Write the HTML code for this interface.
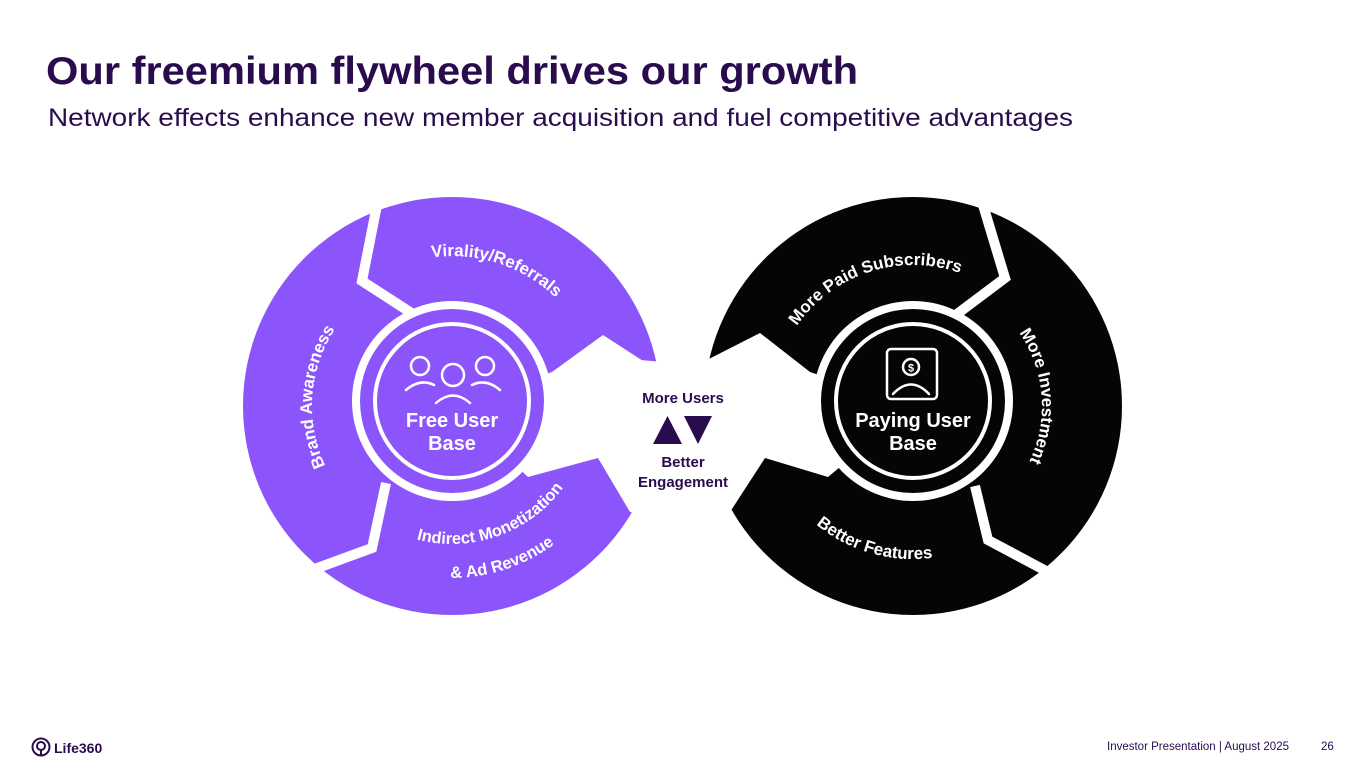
<!DOCTYPE html>
<html><head><meta charset="utf-8"><style>
html,body{margin:0;padding:0;background:#fff;}
svg{display:block;}
</style></head><body>
<svg width="1365" height="768" viewBox="0 0 1365 768" xmlns="http://www.w3.org/2000/svg" font-family="'Liberation Sans', sans-serif">
<rect width="1365" height="768" fill="#fff"/>
<text x="46" y="84" font-size="39" font-weight="bold" fill="#2a0c4e" textLength="812" lengthAdjust="spacingAndGlyphs">Our freemium flywheel drives our growth</text>
<text x="48" y="126" font-size="25" fill="#2a0c4e" textLength="1025" lengthAdjust="spacingAndGlyphs">Network effects enhance new member acquisition and fuel competitive advantages</text>

<defs>
<path id="pVir" d="M322.1,331 A150,150 0 0 1 599.7,380"/>
<path id="pBrand" d="M362,513.2 A140,140 0 0 1 362,298.8"/>
<path id="pInd1" d="M346.3,494.7 A138,138 0 0 0 590,406"/>
<path id="pInd2" d="M320.3,516.5 A172,172 0 0 0 624,406"/>
<path id="pPaid" d="M772,406 A141,141 0 0 1 1045.5,357.8"/>
<path id="pInv" d="M957.1,284.8 A129,129 0 0 1 977.5,517.7"/>
<path id="pFeat" d="M762.3,432.6 A153,153 0 0 0 1056.8,458.3"/>
</defs>

<!-- Left wheel -->
<circle cx="452" cy="406" r="209" fill="#8b55fb"/>
<polygon points="452,406 552,372 603,335 657,370 720,360 720,530 630,512 598,458 528,477" fill="#fff"/>
<polyline points="377,205 362,281 413,314" fill="none" stroke="#fff" stroke-width="10" stroke-linejoin="miter"/>
<polyline points="386,483 372,548 312,570" fill="none" stroke="#fff" stroke-width="10" stroke-linejoin="miter"/>
<circle cx="452" cy="401" r="100" fill="#fff"/>
<circle cx="452" cy="401" r="92" fill="#8b55fb"/>
<circle cx="452" cy="401" r="77" fill="none" stroke="#fff" stroke-width="4"/>
<g fill="none" stroke="#fff" stroke-width="2.5" stroke-linecap="round">
<circle cx="420" cy="366" r="9"/>
<circle cx="453" cy="375" r="11"/>
<circle cx="485" cy="366" r="9"/>
<path d="M406,390 Q420,378 434,385"/>
<path d="M472,385 Q486,378 500,390"/>
<path d="M436,403 Q453,388 470,403"/>
</g>
<text x="452" y="427" font-size="20" font-weight="bold" fill="#fff" text-anchor="middle">Free User</text>
<text x="452" y="450" font-size="20" font-weight="bold" fill="#fff" text-anchor="middle">Base</text>
<g font-size="17" font-weight="bold" fill="#fff">
<text><textPath href="#pVir" startOffset="55.7%" text-anchor="middle">Virality/Referrals</textPath></text>
<text><textPath href="#pBrand" startOffset="54%" text-anchor="middle">Brand Awareness</textPath></text>
<text font-size="16.5"><textPath href="#pInd1" startOffset="49.6%" text-anchor="middle">Indirect Monetization</textPath></text>
<text font-size="16.5"><textPath href="#pInd2" startOffset="48.6%" text-anchor="middle">&amp; Ad Revenue</textPath></text>
</g>

<!-- Right wheel -->
<circle cx="913" cy="406" r="209" fill="#050505"/>
<polygon points="913,406 810,372 760,333 697,365 640,360 640,530 730,512 765,458 828,477" fill="#fff"/>
<polyline points="983,205 1005,278 957,314" fill="none" stroke="#fff" stroke-width="10"/>
<polyline points="975,486 988,540 1048,572" fill="none" stroke="#fff" stroke-width="10"/>
<circle cx="913" cy="401" r="100" fill="#fff"/>
<circle cx="913" cy="401" r="92" fill="#050505"/>
<circle cx="913" cy="401" r="77" fill="none" stroke="#fff" stroke-width="4"/>
<g fill="none" stroke="#fff" stroke-width="2.5" stroke-linecap="round">
<rect x="887" y="349" width="50" height="50" rx="4"/>
<circle cx="911" cy="367" r="8"/>
<path d="M893,394 Q911,375 929,394"/>
</g>
<text x="911" y="371.5" font-size="11" font-weight="bold" fill="#fff" text-anchor="middle">$</text>
<text x="913" y="427" font-size="20" font-weight="bold" fill="#fff" text-anchor="middle">Paying User</text>
<text x="913" y="450" font-size="20" font-weight="bold" fill="#fff" text-anchor="middle">Base</text>
<g font-size="17" font-weight="bold" fill="#fff">
<text><textPath href="#pPaid" startOffset="45%" text-anchor="middle">More Paid Subscribers</textPath></text>
<text><textPath href="#pInv" startOffset="50.3%" text-anchor="middle">More Investment</textPath></text>
<text><textPath href="#pFeat" startOffset="42.7%" text-anchor="middle">Better Features</textPath></text>
</g>

<!-- Middle -->
<g fill="#2a0c4e" font-weight="bold" font-size="15" text-anchor="middle">
<text x="683" y="403">More Users</text>
<polygon points="653,444 667.5,416 682,444"/>
<polygon points="684,416 712,416 698,444"/>
<text x="683" y="467">Better</text>
<text x="683" y="487">Engagement</text>
</g>

<!-- Footer -->
<g fill="none" stroke="#2a0c4e" stroke-width="2">
<circle cx="41" cy="747" r="8.5"/>
<circle cx="41" cy="746" r="4"/>
<path d="M41,750 L41,756"/>
</g>
<text x="54" y="753" font-size="14" font-weight="bold" fill="#2a0c4e">Life360</text>
<text x="1107" y="750" font-size="11.5" fill="#2a0c4e">Investor Presentation  | August 2025</text>
<text x="1321" y="750" font-size="11.5" fill="#2a0c4e">26</text>
</svg>
</body></html>
